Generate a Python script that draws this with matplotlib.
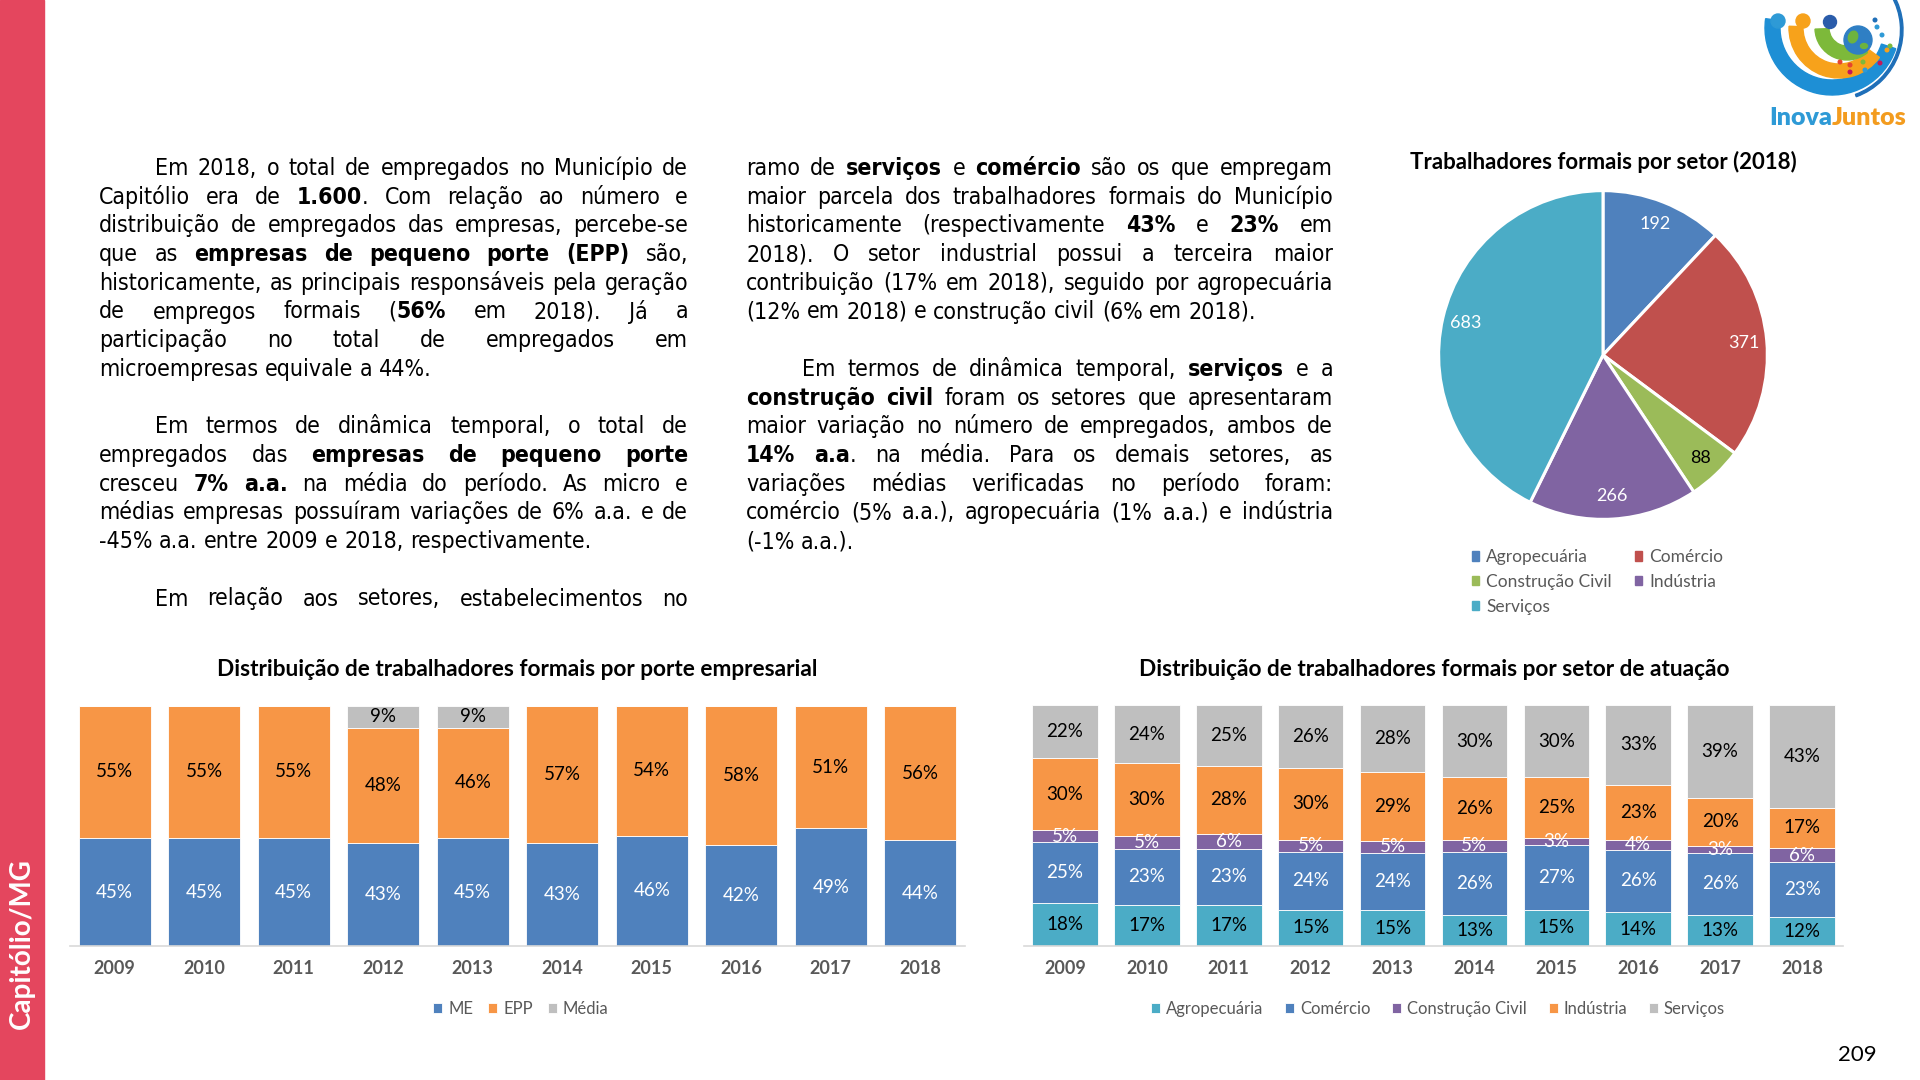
"""
Página 209 - Capitólio/MG: texto sobre empregos formais e três gráficos
(porte empresarial, setor de atuação e pizza por setor em 2018).
"""

import numpy as np
import matplotlib
matplotlib.use("Agg")
import matplotlib.pyplot as plt
from matplotlib import font_manager as fm
from matplotlib.patches import Rectangle, Wedge, Circle, Ellipse, Patch

W, H = 1920, 1080

# ---------------- dados ----------------
anos = ["2009", "2010", "2011", "2012", "2013", "2014", "2015", "2016", "2017", "2018"]

porte_nomes = ["ME", "EPP", "Média"]
porte_me = [45, 45, 45, 43, 45, 43, 46, 42, 49, 44]
porte_epp = [55, 55, 55, 48, 46, 57, 54, 58, 51, 56]
porte_media = [0, 0, 0, 9, 9, 0, 0, 0, 0, 0]

setor_nomes = ["Agropecuária", "Comércio", "Construção Civil", "Indústria", "Serviços"]
setor_agro = [18, 17, 17, 15, 15, 13, 15, 14, 13, 12]
setor_comercio = [25, 23, 23, 24, 24, 26, 27, 26, 26, 23]
setor_construcao = [5, 5, 6, 5, 5, 5, 3, 4, 3, 6]
setor_industria = [30, 30, 28, 30, 29, 26, 25, 23, 20, 17]
setor_servicos = [22, 24, 25, 26, 28, 30, 30, 33, 39, 43]

pizza_nomes = ["Agropecuária", "Comércio", "Construção Civil", "Indústria", "Serviços"]
pizza_valores = [192, 371, 88, 266, 683]

# texto (linhas como na página; ** marca negrito, ">" recuo, "|" fim de parágrafo)
coluna1 = [
    ">Em 2018, o total de empregados no Município de",
    "Capitólio era de **1.600**. Com relação ao número e",
    "distribuição de empregados das empresas, percebe-se",
    "que as **empresas de pequeno porte (EPP)** são,",
    "historicamente, as principais responsáveis pela geração",
    "de empregos formais (**56%** em 2018). Já a",
    "participação no total de empregados em",
    "microempresas equivale a 44%.|",
    "",
    ">Em termos de dinâmica temporal, o total de",
    "empregados das **empresas de pequeno porte**",
    "cresceu **7% a.a.** na média do período. As micro e",
    "médias empresas possuíram variações de 6% a.a. e de",
    "-45% a.a. entre 2009 e 2018, respectivamente.|",
    "",
    ">Em relação aos setores, estabelecimentos no",
]
coluna2 = [
    "ramo de **serviços** e **comércio** são os que empregam",
    "maior parcela dos trabalhadores formais do Município",
    "historicamente (respectivamente **43%** e **23%** em",
    "2018). O setor industrial possui a terceira maior",
    "contribuição (17% em 2018), seguido por agropecuária",
    "(12% em 2018) e construção civil (6% em 2018).|",
    "",
    ">Em termos de dinâmica temporal, **serviços** e a",
    "**construção civil** foram os setores que apresentaram",
    "maior variação no número de empregados, ambos de",
    "**14% a.a**. na média. Para os demais setores, as",
    "variações médias verificadas no período foram:",
    "comércio (5% a.a.), agropecuária (1% a.a.) e indústria",
    "(-1% a.a.).|",
]

# ---------------- estilo ----------------
AZUL = "#4F81BD"
LARANJA = "#F79646"
CINZA = "#BFBFBF"
VERMELHO = "#C0504D"
VERDE = "#9BBB59"
ROXO = "#8064A2"
TURQUESA = "#4BACC6"
CINZA_TXT = "#595959"
ROSA = "#E4465E"

FONTE_GRAF = "Lato"
FONTE_TEXTO = "DejaVu Sans"
plt.rcParams["font.family"] = [FONTE_GRAF, "DejaVu Sans"]

# versão condensada do DejaVu, se existir (mais próxima da Tahoma)
caminho = fm.findfont(fm.FontProperties(family=FONTE_TEXTO, stretch="condensed"))
ESTICA = "condensed" if "Condensed" in caminho else "normal"


def fx(x):
    return x / W


def fy(y):
    return 1 - y / H


fig = plt.figure(figsize=(W / 100, H / 100), dpi=100)
fig.patch.set_facecolor("white")
rend = fig.canvas.get_renderer()

# ---------------- faixa lateral ----------------
fig.add_artist(Rectangle((0, 0), fx(44), 1, transform=fig.transFigure,
                         color=ROSA, zorder=0))
fig.text(fx(22), fy(944), "Capitólio/MG", rotation=90, ha="center", va="center",
         color="white", fontsize=20, fontweight="bold")
fig.text(fx(1857), fy(1055), "209", ha="center", va="center", fontsize=16, color="black")


# ---------------- texto justificado ----------------
def palavras(linha):
    partes = linha.split("**")
    chars = []
    for k, parte in enumerate(partes):
        for ch in parte:
            chars.append((ch, k % 2 == 1))
    lista, atual = [], []
    for ch, b in chars:
        if ch == " ":
            if atual:
                lista.append(atual)
                atual = []
        else:
            atual.append((ch, b))
    if atual:
        lista.append(atual)
    saida = []
    for p in lista:
        runs = []
        for ch, b in p:
            if runs and runs[-1][1] == b:
                runs[-1][0] += ch
            else:
                runs.append([ch, b])
        saida.append(runs)
    return saida


def novo_texto(x, y, txt, size, bold):
    return fig.text(x, y, txt, fontsize=size, family=FONTE_TEXTO, fontstretch=ESTICA,
                    fontweight="bold" if bold else "normal",
                    va="baseline", ha="left", color="black")


def medir(txt, size, bold):
    t = novo_texto(0, 0, txt, size, bold)
    w = t.get_window_extent(rend).width
    t.remove()
    return w


RECUO = 56


def largura_natural(linha, size):
    esp = medir("a a", size, False) - medir("aa", size, False)
    ws = palavras(linha.strip(">|"))
    tot = sum(medir(r, size, b) for p in ws for r, b in p)
    return tot + esp * (len(ws) - 1)


colunas = [(coluna1, 99, 688), (coluna2, 746, 1333)]

# tamanho da fonte ajustado para caber nas linhas justificadas
REF = 16
razao = 0
for linhas, x0, x1 in colunas:
    for ln in linhas:
        if not ln or ln.endswith("|"):
            continue
        disp = x1 - x0 - (RECUO if ln.startswith(">") else 0)
        razao = max(razao, largura_natural(ln, REF) / disp)
TAM = min(17, REF / razao * 0.995)

Y0, PASSO = 175, 28.7
esp_nat = medir("a a", TAM, False) - medir("aa", TAM, False)
for linhas, x0, x1 in colunas:
    for i, ln in enumerate(linhas):
        if not ln:
            continue
        recuo = RECUO if ln.startswith(">") else 0
        justifica = not ln.endswith("|")
        ws = palavras(ln.strip(">|"))
        objs = []
        total = 0
        for p in ws:
            wo = []
            for r, b in p:
                t = novo_texto(0, fy(Y0 + i * PASSO), r, TAM, b)
                w = t.get_window_extent(rend).width
                wo.append((t, w))
                total += w
            objs.append(wo)
        disp = x1 - x0 - recuo
        gap = (disp - total) / (len(ws) - 1) if justifica and len(ws) > 1 else esp_nat
        x = x0 + recuo
        for wo in objs:
            for t, w in wo:
                t.set_x(fx(x))
                x += w
            x += gap


# ---------------- barras empilhadas ----------------
def barras(ax, series, nomes, cores, cores_txt):
    x = np.arange(len(anos))
    dados = np.array(series, dtype=float)
    total = dados.sum(axis=0)
    base = np.zeros(len(anos))
    for vals, nome, cor, ctxt in zip(dados, nomes, cores, cores_txt):
        frac = vals / total
        ax.bar(x, frac, 0.8, bottom=base, color=cor, edgecolor="white",
               linewidth=0.6, label=nome)
        for xi, v, f, b in zip(x, vals, frac, base):
            if v > 0:
                ax.text(xi, b + f / 2, f"{v:.0f}%", ha="center", va="center",
                        color=ctxt, fontsize=13.5)
        base += frac
    ax.set_xlim(-0.5, len(anos) - 0.5)
    ax.set_ylim(0, 1)
    ax.set_xticks([])
    ax.set_yticks([])
    # rótulos dos anos (negrito, cinza) logo abaixo do eixo
    alt = ax.get_position().height * H
    for xi, ano in zip(x, anos):
        ax.text(xi, -23 / alt, ano, transform=ax.get_xaxis_transform(), ha="center",
                va="center", fontsize=13, fontweight="bold", color=CINZA_TXT)
    for s in ["top", "left", "right"]:
        ax.spines[s].set_visible(False)
    ax.spines["bottom"].set_color("#D9D9D9")
    ax.spines["bottom"].set_linewidth(1.2)
    ax.set_facecolor("none")


ax1 = fig.add_axes([fx(70), fy(946), fx(965) - fx(70), (946 - 706) / H])
barras(ax1, [porte_me, porte_epp, porte_media], porte_nomes,
       [AZUL, LARANJA, CINZA], ["white", "black", "black"])
fig.text(fx(517), fy(670), "Distribuição de trabalhadores formais por porte empresarial",
         ha="center", va="center", fontsize=16.3, fontweight="bold", color="black")
ax1.legend(loc="center", bbox_to_anchor=(fx(521), fy(1009)), bbox_transform=fig.transFigure,
           ncol=3, frameon=False, fontsize=12, labelcolor=CINZA_TXT, borderpad=0,
           handlelength=0.55, handleheight=0.55, handletextpad=0.35, columnspacing=0.9)

ax2 = fig.add_axes([fx(1024), fy(946), fx(1843) - fx(1024), (946 - 705) / H])
barras(ax2, [setor_agro, setor_comercio, setor_construcao, setor_industria, setor_servicos],
       setor_nomes, [TURQUESA, AZUL, ROXO, LARANJA, CINZA],
       ["black", "white", "white", "black", "black"])
fig.text(fx(1434), fy(670), "Distribuição de trabalhadores formais por setor de atuação",
         ha="center", va="center", fontsize=16.3, fontweight="bold", color="black")
ax2.legend(loc="center", bbox_to_anchor=(fx(1438), fy(1009)), bbox_transform=fig.transFigure,
           ncol=5, frameon=False, fontsize=12, labelcolor=CINZA_TXT, borderpad=0,
           handlelength=0.55, handleheight=0.55, handletextpad=0.35, columnspacing=1.3)

# ---------------- pizza ----------------
R_PX = 166
axp = fig.add_axes([fx(1603 - R_PX), fy(355 + R_PX), 2 * R_PX / W, 2 * R_PX / H])
tot_pizza = sum(pizza_valores)
fatias, _, rotulos = axp.pie(
    pizza_valores, colors=[AZUL, VERMELHO, VERDE, ROXO, TURQUESA], startangle=90,
    counterclock=False, wedgeprops=dict(edgecolor="white", linewidth=2.2),
    autopct=lambda p: f"{p * tot_pizza / 100:.0f}", pctdistance=0.86,
    textprops=dict(fontsize=13))
for t, c in zip(rotulos, ["white", "white", "black", "white", "white"]):
    t.set_color(c)
axp.set_xlim(-1.01, 1.01)
axp.set_ylim(-1.01, 1.01)
axp.set_aspect("equal")
fig.text(fx(1603), fy(162), "Trabalhadores formais por setor (2018)", ha="center",
         va="center", fontsize=16, fontweight="bold", color="black")
ordem = [0, 2, 4, 1, 3]
alcas = [Patch(color=fatias[i].get_facecolor()) for i in ordem]
fig.legend(alcas, [pizza_nomes[i] for i in ordem], loc="center left",
           bbox_to_anchor=(fx(1463), fy(582)), ncol=2, frameon=False, fontsize=12.5,
           labelcolor=CINZA_TXT, borderpad=0, handlelength=0.45, handleheight=0.45,
           handletextpad=0.4, columnspacing=1.3, labelspacing=0.5)

# ---------------- logotipo ----------------
axl = fig.add_axes([fx(1752), fy(140), 160 / W, 140 / H])
axl.set_xlim(0, 160)
axl.set_ylim(140, 0)
axl.set_aspect("equal")
axl.axis("off")
axl.add_patch(Wedge((80, 30), 71, -30, 70, width=2.5, color="#1F6FB8"))
axl.add_patch(Wedge((80, 28), 67, 18, 188, width=15, color="#1E8FD5"))
axl.add_patch(Wedge((87, 28), 50, 36, 182, width=14, color="#F7A21B"))
axl.add_patch(Wedge((95, 28), 32, 50, 178, width=14, color="#7DB93A"))
axl.add_patch(Circle((26, 21), 7, color="#2E9AD6"))
axl.add_patch(Circle((51, 21), 7, color="#F7A21B"))
axl.add_patch(Circle((78, 22), 6.5, color="#2A5CAA"))
axl.add_patch(Circle((106, 40), 14, color="#2F7FC4"))
axl.add_patch(Ellipse((101, 37), 9, 12, angle=20, color="#6DB33F"))
axl.add_patch(Ellipse((112, 46), 7, 5, color="#6DB33F"))
pontos = [(88, 62, "#E6452E"), (98, 65, "#E6452E"), (111, 62, "#7DB93A"),
          (121, 57, "#F7A21B"), (128, 63, "#C2185B"), (125, 27, "#2E9AD6"),
          (130, 35, "#2E9AD6"), (123, 20, "#1F6FB8"), (135, 50, "#F7A21B"),
          (138, 46, "#7DB93A"), (98, 72, "#C2185B"), (113, 70, "#2E9AD6")]
for px, py, c in pontos:
    axl.add_patch(Circle((px, py), 1.8, color=c))
axl.text(80, 118, "Inova", ha="right", va="center", fontsize=18, fontweight="heavy",
         color="#2E9AD6")
axl.text(80, 118, "Juntos", ha="left", va="center", fontsize=18, fontweight="heavy",
         color="#F39C1F")

fig.savefig("out.png", dpi=100, facecolor="white")
